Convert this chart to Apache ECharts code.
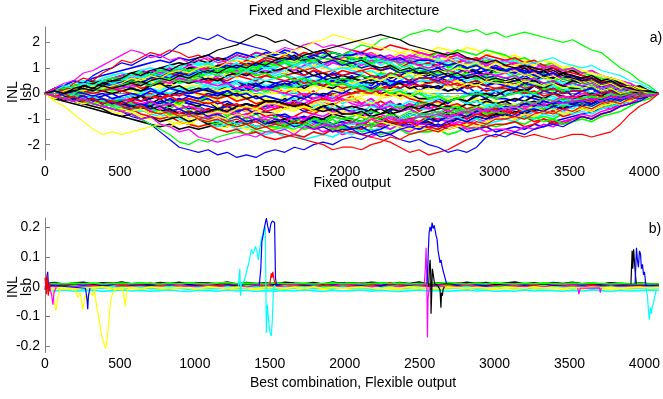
<!DOCTYPE html>
<html><head><meta charset="utf-8">
<script src="https://cdn.jsdelivr.net/npm/echarts@6/dist/echarts.min.js"></script>
<style>html,body{margin:0;padding:0;background:#fff}#c{width:663px;height:399px}</style>
</head><body><div id="c"></div>
<script>
// sample positions (output codes)
const codes = [0,64,128,192,256,320,384,448,512,576,640,704,768,832,896,960,1024,1088,1152,1216,1280,1344,1408,1472,1536,1600,1664,1728,1792,1856,1920,1984,2048,2112,2176,2240,2304,2368,2432,2496,2560,2624,2688,2752,2816,2880,2944,3008,3072,3136,3200,3264,3328,3392,3456,3520,3584,3648,3712,3776,3840,3904,3968,4032,4096];
const xTicks = [0,500,1000,1500,2000,2500,3000,3500,4000];
const topYTicks = [-2,-1,0,1,2];
const botYTicks = [-0.2,-0.1,0,0.1,0.2];

// Fixed output INL curves, in tenths of an lsb (outer, visible curves)
const fA=[0,2,3,5,4,7,9,10,12,11,13,15,14,16,19,20,22,21,23,21,20,19,18,17,15,16,14,13,14,12,13,11,12,10,11,9,10,8,9,10,9,7,8,6,7,8,6,7,6,5,7,5,4,5,3,4,3,2,3,1,2,1,1,0,0];
const fB=[0,1,-1,0,2,1,3,2,3,5,4,3,5,6,4,5,6,8,7,9,8,10,9,12,11,13,12,14,13,15,16,15,17,19,18,21,22,21,23,24,25,24,26,25,24,25,23,24,22,23,24,23,22,21,20,21,19,17,16,13,10,8,5,3,0];
const fC=[0,2,1,4,6,5,8,10,13,12,14,16,15,17,16,14,15,13,14,12,13,11,12,13,12,10,11,9,10,8,9,7,8,9,7,6,8,7,5,6,6,4,5,3,4,5,3,2,3,4,2,3,1,2,0,1,1,-1,0,1,-1,0,1,0,0];
const fD=[0,1,3,2,4,3,5,4,5,7,6,8,7,9,10,8,9,7,8,6,7,9,8,10,8,9,11,10,12,11,9,10,10,12,11,13,12,10,11,12,11,13,12,14,13,12,14,13,12,13,11,12,13,14,12,11,10,11,9,8,7,5,4,2,0];
const fE=[0,2,4,5,8,9,11,13,15,17,16,14,15,13,14,12,13,14,12,13,15,14,16,15,16,18,17,19,20,18,19,18,17,15,16,14,13,12,13,11,10,11,9,8,9,7,8,7,6,7,5,6,4,5,3,4,3,4,2,3,1,2,1,0,0];
const fF=[0,-1,1,2,1,3,2,3,4,6,5,7,6,8,9,8,10,11,10,12,13,12,14,15,16,15,17,18,20,21,23,22,21,20,19,18,17,16,17,15,14,13,14,12,11,12,10,9,8,9,7,8,6,7,5,6,4,5,3,4,2,3,1,1,0];
const fG=[0,1,0,2,3,2,4,5,6,8,7,9,10,9,11,12,14,15,17,18,19,21,23,22,20,21,19,18,16,17,14,13,12,13,11,10,11,9,10,8,8,9,7,8,6,7,5,6,5,6,4,5,3,4,3,2,2,3,1,2,0,1,0,1,0];
const fH=[0,-1,-2,-3,-2,-4,-5,-6,-7,-9,-10,-12,-15,-18,-21,-22,-23,-22,-24,-23,-25,-24,-25,-23,-22,-23,-21,-22,-20,-19,-20,-18,-17,-18,-16,-15,-16,-14,-13,-14,-12,-13,-11,-10,-11,-9,-10,-9,-8,-9,-7,-6,-7,-5,-6,-5,-4,-5,-3,-2,-3,-1,-2,-1,0];
const fI=[0,-1,0,-2,-1,-3,-2,-3,-4,-3,-5,-6,-5,-7,-8,-7,-9,-10,-9,-11,-10,-12,-11,-13,-12,-13,-11,-12,-14,-13,-15,-14,-15,-16,-17,-18,-19,-21,-23,-22,-24,-23,-22,-20,-18,-17,-16,-17,-15,-16,-17,-16,-17,-18,-17,-16,-16,-17,-16,-15,-12,-8,-5,-3,0];
const fJ=[0,1,-1,-2,-1,-3,-2,-4,-3,-5,-4,-6,-5,-7,-6,-8,-7,-9,-8,-10,-9,-11,-10,-12,-10,-11,-13,-12,-14,-13,-15,-14,-14,-16,-15,-17,-16,-18,-19,-18,-20,-21,-23,-22,-23,-21,-17,-16,-17,-15,-16,-14,-13,-12,-13,-11,-9,-10,-8,-7,-5,-4,-3,-1,0];
const fK=[0,-3,-5,-8,-11,-14,-16,-15,-16,-15,-14,-13,-12,-13,-11,-12,-10,-11,-9,-10,-8,-9,-7,-8,-8,-6,-7,-5,-6,-4,-5,-3,-3,-2,-4,-2,-1,0,-1,1,2,1,3,2,4,3,5,4,4,3,5,4,3,4,2,3,2,3,1,2,0,1,1,0,0];
const fL=[0,-1,-2,-1,-3,-4,-3,-5,-7,-8,-10,-12,-14,-16,-19,-20,-18,-19,-17,-16,-15,-16,-14,-15,-14,-13,-14,-12,-13,-11,-12,-10,-10,-11,-9,-10,-8,-9,-7,-8,-8,-7,-8,-6,-7,-5,-6,-5,-4,-5,-3,-4,-2,-3,-2,-3,-2,-1,-2,0,-1,0,-1,0,0];
const fM=[0,1,0,1,2,1,3,2,3,4,3,5,6,5,7,6,8,9,8,10,11,10,12,11,13,14,13,15,16,17,18,19,20,21,22,23,22,21,19,18,17,16,15,16,14,13,12,13,11,10,11,9,8,9,7,6,5,6,4,5,3,2,1,1,0];
const fN=[0,-1,-2,-1,-3,-2,-4,-3,-5,-6,-5,-7,-8,-7,-9,-8,-10,-11,-10,-12,-13,-12,-14,-13,-15,-16,-17,-18,-19,-20,-22,-21,-21,-22,-20,-19,-17,-18,-16,-15,-14,-15,-13,-12,-13,-11,-12,-10,-10,-9,-10,-8,-7,-8,-6,-7,-5,-6,-4,-3,-4,-2,-1,-1,0];
const fO=[0,-1,-2,-3,-2,-4,-5,-6,-7,-8,-10,-9,-12,-13,-15,-14,-17,-18,-19,-18,-17,-16,-17,-15,-15,-14,-16,-13,-14,-12,-13,-12,-11,-12,-10,-11,-9,-10,-11,-9,-9,-8,-10,-8,-7,-8,-6,-7,-6,-5,-6,-4,-5,-3,-4,-3,-3,-2,-3,-1,-2,-1,0,-1,0];
// Fixed output INL curves inside the bundle, tenths of an lsb
const fM1=[0,2,1,3,4,3,5,6,5,7,8,7,9,10,9,11,12,11,13,12,14,13,15,14,15,16,14,16,15,17,16,15,16,14,15,13,14,12,13,11,12,10,11,9,10,8,9,7,8,6,7,5,6,4,5,3,4,2,3,1,2,1,0,1,0];
const fM2=[0,-1,-2,-1,-3,-4,-3,-5,-4,-6,-5,-7,-8,-7,-9,-8,-10,-9,-11,-10,-12,-11,-13,-12,-13,-14,-12,-14,-13,-15,-14,-16,-15,-16,-17,-15,-16,-14,-15,-13,-14,-12,-13,-11,-12,-10,-11,-9,-10,-8,-9,-7,-8,-6,-7,-5,-5,-4,-3,-4,-2,-1,-1,0,0];
const fM3=[0,1,0,2,1,3,2,4,3,5,4,6,5,7,6,8,7,9,8,10,9,11,10,12,11,13,12,14,13,12,14,13,15,14,16,15,14,16,15,17,16,18,17,16,18,17,15,16,14,15,13,12,13,11,10,9,8,7,6,5,4,3,2,1,0];
const fM4=[0,-2,-3,-4,-5,-6,-7,-8,-9,-10,-11,-12,-13,-12,-14,-13,-14,-13,-12,-13,-11,-12,-10,-11,-12,-10,-11,-9,-10,-11,-9,-10,-11,-12,-10,-11,-9,-10,-8,-9,-8,-9,-7,-8,-6,-7,-5,-6,-5,-6,-4,-5,-3,-4,-2,-3,-2,-3,-1,-2,0,-1,0,1,0];
const fM5=[0,2,3,5,4,6,7,8,9,10,11,12,13,12,14,13,14,15,13,14,16,15,14,16,15,17,16,14,15,16,14,15,13,14,12,13,14,12,13,11,12,10,11,12,10,11,9,10,8,9,7,8,6,7,5,6,4,5,3,2,2,1,1,0,0];
const fM6=[0,-1,0,-2,-1,-3,-2,-4,-3,-5,-4,-6,-5,-7,-6,-8,-7,-9,-8,-10,-9,-11,-10,-12,-11,-12,-13,-12,-14,-13,-12,-14,-13,-15,-14,-16,-15,-14,-16,-15,-15,-14,-16,-15,-13,-14,-12,-13,-12,-11,-12,-10,-9,-10,-8,-7,-6,-5,-4,-5,-3,-2,-1,-1,0];
const fM7=[0,1,2,1,3,2,4,5,4,6,5,7,8,7,9,8,10,9,11,12,11,13,12,14,13,15,14,16,15,17,16,15,17,16,18,17,19,18,17,16,15,16,14,15,13,14,12,13,11,12,10,9,10,8,7,6,6,5,4,3,3,2,1,1,0];
const fM8=[0,-1,-2,-3,-2,-4,-5,-4,-6,-7,-6,-8,-9,-8,-10,-11,-10,-12,-13,-12,-14,-13,-15,-16,-15,-17,-16,-18,-17,-16,-17,-15,-16,-14,-15,-13,-14,-12,-13,-11,-12,-10,-11,-9,-10,-8,-9,-7,-8,-6,-7,-5,-6,-4,-5,-3,-4,-2,-3,-1,-2,0,-1,0,0];
const fM9=[0,1,2,3,2,4,3,5,6,5,7,6,8,9,8,10,9,11,10,12,11,10,12,11,13,12,11,13,12,14,13,12,14,13,15,14,13,15,14,16,15,14,16,15,14,13,14,12,13,11,12,10,11,9,8,7,6,5,4,4,3,2,1,1,0];
const fM10=[0,-1,-3,-2,-4,-5,-6,-7,-8,-7,-9,-10,-9,-11,-12,-11,-13,-12,-14,-13,-12,-14,-13,-12,-14,-13,-15,-14,-13,-12,-14,-13,-12,-11,-13,-12,-11,-10,-12,-11,-10,-11,-9,-10,-8,-9,-7,-8,-7,-6,-7,-5,-6,-4,-5,-3,-4,-3,-2,-3,-1,-2,0,-1,0];
const fM11=[0,2,1,3,4,5,4,6,7,8,9,8,10,11,12,11,13,12,14,13,15,14,16,15,14,13,15,12,14,11,13,12,10,12,11,9,10,8,9,7,8,6,7,5,6,7,5,6,4,5,3,4,2,3,1,2,1,2,0,1,-1,0,1,0,0];
const fM12=[0,-1,0,-2,-1,-2,-3,-2,-4,-3,-5,-4,-6,-5,-4,-6,-5,-7,-6,-8,-7,-6,-8,-7,-9,-8,-10,-9,-11,-10,-12,-11,-12,-11,-13,-12,-11,-13,-12,-14,-13,-12,-14,-13,-15,-14,-13,-15,-14,-13,-14,-12,-13,-11,-10,-9,-8,-7,-6,-5,-4,-3,-2,-1,0];
const fM13=[0,1,-1,0,1,2,1,3,2,4,3,5,4,6,5,7,6,8,7,9,8,10,9,11,10,12,11,13,12,11,13,12,14,13,15,14,12,14,13,15,14,16,15,17,16,15,17,16,15,13,14,12,11,12,10,9,8,7,6,5,4,3,2,1,0];
const fM14=[0,-1,-2,-3,-4,-3,-5,-6,-7,-6,-8,-9,-10,-9,-11,-12,-13,-12,-14,-15,-14,-16,-15,-17,-18,-17,-16,-17,-15,-16,-14,-15,-13,-14,-12,-13,-11,-12,-10,-11,-9,-10,-8,-9,-7,-8,-6,-7,-5,-6,-4,-5,-3,-4,-2,-3,-2,-1,-2,0,-1,0,1,0,0];
const fM15=[0,2,3,4,5,4,6,7,8,7,9,10,9,11,10,12,11,12,10,11,9,10,8,9,7,8,6,7,5,6,4,5,3,4,2,3,1,2,0,1,-1,0,-2,-1,-3,-2,-4,-5,-6,-7,-8,-7,-6,-7,-5,-6,-4,-5,-3,-2,-2,-1,-1,0,0];
const fM16=[0,-1,-2,-3,-4,-3,-5,-6,-5,-7,-6,-8,-7,-9,-8,-7,-8,-6,-7,-5,-6,-4,-5,-3,-4,-2,-3,-1,-2,0,-1,1,0,2,1,3,2,4,3,5,4,6,5,7,6,8,7,9,10,9,11,10,9,10,8,9,7,6,5,4,3,2,1,1,0];
const fP=[0,1,2,1,3,4,3,5,6,5,7,6,5,6,4,5,4,3,2,3,1,0,1,-1,-2,-3,-2,-4,-5,-4,-6,-5,-6,-7,-5,-6,-4,-5,-3,-4,-3,-2,-1,-2,0,1,0,1,2,3,2,4,3,5,4,3,3,4,2,3,1,2,0,1,0];
const fQ=[0,-1,-2,-1,-3,-2,-4,-3,-4,-5,-6,-5,-7,-6,-8,-7,-8,-9,-7,-8,-6,-7,-5,-6,-5,-4,-3,-4,-2,-1,-2,0,0,1,2,1,3,4,3,5,5,6,4,6,7,6,8,7,8,9,7,8,6,7,6,5,5,6,4,3,4,2,1,1,0];
const fR=[0,-1,-3,-2,-4,-5,-6,-8,-9,-8,-10,-9,-11,-10,-9,-11,-10,-12,-11,-10,-12,-11,-13,-12,-11,-10,-12,-11,-9,-10,-8,-9,-10,-11,-9,-10,-12,-11,-10,-12,-11,-13,-12,-10,-11,-9,-10,-8,-9,-7,-8,-6,-7,-5,-6,-4,-5,-4,-3,-4,-2,-3,-1,-1,0];
const fS=[0,1,0,2,1,3,2,4,3,2,1,2,0,-1,0,-1,-2,-1,0,1,2,1,3,2,4,5,4,6,7,6,8,7,8,7,6,7,5,4,5,3,3,2,1,2,0,-1,0,-2,-2,-3,-1,-2,-3,-4,-3,-4,-3,-2,-3,-1,-2,0,-1,0,0];
const fT=[0,-1,-2,-3,-2,-4,-5,-4,-6,-5,-6,-4,-5,-3,-4,-2,-3,-1,-2,0,1,0,2,1,2,3,2,4,3,5,4,6,5,7,6,8,7,9,8,10,10,11,9,10,12,11,13,12,12,13,11,12,10,11,9,10,8,9,7,6,5,3,2,1,0];
const fU=[0,1,2,1,3,2,4,3,4,5,6,5,7,8,7,8,9,10,8,9,7,8,6,7,6,5,6,4,5,3,4,2,3,1,2,0,-1,0,-2,-3,-4,-3,-5,-4,-6,-5,-7,-6,-7,-8,-6,-7,-8,-7,-9,-8,-6,-7,-5,-6,-4,-3,-2,-1,0];
const fV=[0,-1,-2,-3,-2,-4,-3,-5,-5,-6,-7,-6,-8,-7,-9,-8,-9,-10,-11,-10,-12,-11,-13,-12,-13,-14,-12,-13,-11,-12,-13,-12,-12,-11,-10,-11,-9,-10,-8,-9,-8,-9,-10,-9,-11,-10,-12,-11,-10,-11,-9,-10,-8,-9,-7,-8,-7,-8,-6,-5,-4,-3,-2,-1,0];
const fW=[0,1,2,3,4,3,5,6,7,6,8,9,8,10,9,11,10,9,10,8,9,7,8,9,8,10,9,11,12,11,13,14,15,16,15,14,15,13,14,13,14,12,13,14,12,13,11,12,13,12,11,12,10,11,9,10,8,9,7,6,5,4,2,1,0];
const fX=[0,1,0,2,1,2,3,2,2,1,0,-1,-2,-1,-3,-2,-4,-3,-5,-6,-5,-7,-6,-8,-7,-6,-5,-6,-4,-3,-4,-2,-2,-1,0,-1,1,0,2,1,0,-1,-2,-1,-3,-2,-4,-3,-5,-4,-6,-5,-7,-6,-8,-7,-6,-7,-5,-4,-3,-3,-2,-1,0];
const fY=[0,-1,0,1,0,2,1,0,1,2,1,3,4,3,5,4,5,6,5,7,8,7,9,8,9,10,8,9,7,8,6,7,6,5,4,5,3,4,2,3,2,3,1,2,3,4,3,5,4,5,6,5,7,6,8,7,6,7,5,6,4,3,2,1,0];
const fZ=[0,-1,-2,-3,-4,-3,-5,-6,-6,-5,-4,-5,-3,-4,-2,-3,-4,-5,-6,-5,-7,-6,-8,-7,-8,-9,-10,-9,-11,-12,-13,-12,-14,-13,-15,-14,-12,-13,-11,-12,-10,-11,-9,-8,-9,-7,-6,-7,-5,-6,-4,-5,-3,-4,-2,-3,-3,-4,-2,-3,-1,-2,-1,0,0];
const fAA=[0,1,0,-1,0,1,2,1,2,3,4,3,5,6,5,6,7,8,9,8,10,11,10,12,12,13,14,13,15,14,16,15,14,13,12,13,11,10,11,9,9,8,9,7,8,6,7,5,6,7,5,6,4,5,6,5,4,5,3,4,2,3,1,0,0];
const fAB=[0,-1,0,-2,-1,-3,-2,-4,-3,-2,-3,-1,-2,0,-1,1,0,-1,-2,-1,-3,-2,-4,-3,-4,-5,-4,-6,-7,-6,-8,-7,-8,-9,-10,-9,-11,-12,-11,-13,-13,-14,-12,-13,-11,-12,-13,-12,-12,-11,-13,-12,-10,-11,-12,-10,-9,-10,-8,-7,-5,-4,-2,-1,0];
const fAC=[0,1,2,1,2,3,2,4,3,4,5,4,6,7,6,7,8,9,10,9,11,10,12,11,12,13,11,12,10,11,9,10,9,8,9,7,8,6,7,5,5,4,3,4,2,3,1,2,0,1,-1,0,-2,-1,-3,-2,-2,-3,-1,-2,0,-1,0,1,0];
const fAD=[0,-1,0,-1,-2,-1,-3,-2,-2,-3,-4,-3,-5,-4,-6,-5,-6,-7,-8,-7,-9,-8,-10,-9,-10,-11,-9,-10,-8,-9,-7,-8,-7,-8,-9,-8,-10,-11,-10,-12,-12,-13,-11,-12,-14,-13,-15,-14,-14,-15,-13,-14,-12,-13,-11,-10,-8,-9,-7,-6,-5,-4,-2,-1,0];
const fAE=[0,1,2,3,2,4,3,5,5,4,6,5,3,4,2,3,3,2,1,2,0,1,-1,0,0,1,2,1,3,2,4,3,4,5,6,5,7,6,8,7,8,9,8,10,9,11,10,12,10,11,12,11,13,12,10,11,9,8,7,6,5,3,2,1,0];
const fAF=[0,-1,-2,-1,-3,-2,-4,-3,-4,-5,-6,-5,-7,-6,-8,-7,-8,-7,-6,-7,-5,-4,-5,-3,-3,-4,-5,-4,-6,-5,-4,-6,-5,-6,-7,-6,-8,-7,-6,-8,-7,-6,-5,-6,-4,-5,-3,-4,-3,-2,-3,-1,-2,0,-1,-2,-1,0,-1,1,0,-1,0,1,0];
const fAG=[0,1,2,1,3,2,4,3,4,5,4,6,7,6,8,7,9,8,10,11,10,12,11,13,12,13,14,13,15,14,16,15,15,16,14,15,13,14,12,13,13,12,11,12,10,11,9,10,9,8,9,7,6,7,5,6,4,5,3,4,2,3,1,1,0];
const fAH=[0,-1,-2,-1,-2,-3,-2,-3,-3,-4,-5,-6,-7,-8,-9,-8,-10,-11,-12,-11,-13,-12,-14,-13,-13,-12,-11,-12,-10,-11,-9,-10,-9,-8,-7,-8,-6,-5,-6,-4,-4,-5,-6,-5,-7,-6,-8,-7,-8,-9,-10,-9,-11,-10,-12,-11,-10,-11,-9,-8,-7,-5,-3,-2,0];
const fAI=[0,1,0,2,1,0,1,2,1,0,-1,0,-2,-1,-3,-2,-3,-4,-3,-5,-4,-6,-5,-7,-6,-5,-4,-5,-3,-2,-3,-1,0,1,0,2,3,2,4,3,4,5,3,4,2,3,1,2,2,1,0,1,-1,0,-2,-1,-2,-3,-1,-2,0,-1,0,1,0];
const fAJ=[0,-1,0,-1,-2,-1,-3,-2,-2,-1,0,-1,1,0,2,1,2,3,4,3,5,4,6,5,6,7,5,6,4,5,3,4,3,2,1,2,0,1,-1,0,-2,-1,-3,-2,-4,-3,-5,-4,-6,-5,-7,-6,-5,-6,-4,-5,-4,-5,-3,-2,-3,-1,-2,0,0];
const fAK=[0,1,0,1,2,1,3,2,2,3,4,3,5,4,6,5,5,4,3,4,2,3,1,2,1,0,-1,0,-2,-1,-3,-2,-4,-5,-4,-6,-5,-7,-6,-8,-8,-7,-9,-8,-7,-6,-7,-5,-4,-5,-3,-4,-2,-3,-1,-2,0,-1,1,0,-1,0,1,0,0];
const fAL=[0,-1,-2,-3,-4,-3,-5,-6,-6,-7,-6,-8,-7,-9,-8,-10,-9,-8,-7,-8,-6,-5,-6,-4,-4,-5,-6,-5,-7,-6,-8,-7,-8,-9,-10,-11,-12,-13,-14,-13,-14,-15,-14,-13,-12,-13,-11,-10,-9,-10,-8,-9,-7,-8,-6,-7,-5,-6,-4,-3,-4,-2,-1,-1,0];
const fAM=[0,1,2,1,3,4,3,5,5,4,5,3,4,2,3,1,2,1,0,-1,0,-2,-1,-3,-3,-4,-5,-4,-6,-7,-6,-8,-8,-7,-9,-8,-6,-7,-5,-6,-4,-5,-3,-2,-3,-1,0,-1,1,2,1,3,2,4,3,5,4,5,3,4,2,3,1,1,0];
const fAN=[0,-1,0,1,0,-1,0,-2,-1,0,-1,1,0,2,1,0,1,2,0,1,-1,0,-2,-1,-2,-3,-1,-2,0,-1,1,0,2,3,2,4,3,5,4,6,6,5,7,6,4,5,3,4,3,2,4,3,1,2,0,1,1,2,0,1,-1,0,-1,0,0];
const fAO=[0,1,2,3,4,3,5,6,6,7,8,7,9,8,10,9,10,11,9,10,8,9,7,8,6,7,5,6,4,5,3,4,2,3,1,2,0,1,-1,0,-2,-1,-3,-2,-1,0,-1,-2,-1,0,1,0,2,1,3,2,2,3,1,2,0,1,0,1,0];
const fN1=[0,2,0,3,1,4,2,5,3,6,4,7,5,8,6,9,7,10,8,9,7,10,8,11,9,8,10,7,9,6,8,5,7,4,6,3,5,2,4,1,3,2,4,1,3,0,2,1,3,0,2,-1,1,0,2,-1,1,0,2,0,1,-1,1,0,0];
const fN2=[0,-2,0,-3,-1,-4,-2,-5,-3,-6,-4,-5,-3,-6,-4,-7,-5,-8,-6,-9,-7,-10,-8,-11,-9,-12,-10,-11,-9,-12,-10,-13,-11,-9,-12,-10,-8,-11,-9,-12,-10,-8,-11,-9,-7,-10,-8,-6,-8,-5,-7,-4,-6,-3,-5,-2,-4,-1,-3,0,-2,1,-1,0,0];
const fN3=[0,2,1,3,2,4,3,5,4,6,5,7,6,5,7,6,5,4,6,3,5,2,4,1,3,0,2,-1,1,-2,0,-3,-1,-4,-2,-5,-3,-6,-4,-7,-5,-8,-6,-9,-7,-8,-6,-9,-7,-5,-8,-6,-4,-7,-5,-3,-5,-2,-4,-1,-3,0,-2,-1,0];
const fN4=[0,1,3,2,4,3,5,4,6,5,7,6,8,7,9,8,10,9,11,10,12,9,11,10,10,12,9,11,13,10,12,11,13,12,14,11,13,12,14,13,12,14,11,13,10,12,9,11,10,8,9,7,8,6,7,5,6,4,5,3,4,2,3,1,0];
const fN5=[0,-1,-3,-2,-4,-3,-5,-4,-6,-5,-7,-6,-8,-7,-9,-8,-10,-9,-11,-10,-12,-9,-11,-10,-12,-11,-13,-10,-12,-11,-13,-12,-14,-11,-13,-12,-14,-12,-13,-11,-12,-10,-11,-9,-10,-8,-9,-7,-8,-6,-7,-5,-6,-4,-5,-3,-4,-2,-3,-1,-2,0,-1,0,0];
const fN6=[0,2,0,1,3,1,2,4,2,3,1,4,2,3,0,2,-1,1,-2,0,-3,-1,-4,-2,-3,-1,-4,-2,0,-3,-1,1,-1,2,0,3,1,4,2,5,3,6,4,5,3,6,4,5,3,5,2,4,1,3,0,2,1,-1,1,0,2,-1,1,0,0];
const fN7=[0,-2,0,-1,-3,-1,-2,-4,-2,-3,-1,-4,-2,-5,-3,-4,-5,-3,-6,-4,-5,-7,-5,-6,-4,-6,-3,-5,-7,-5,-6,-8,-7,-9,-6,-8,-7,-10,-8,-9,-9,-11,-8,-10,-9,-7,-9,-8,-6,-8,-5,-7,-4,-6,-3,-5,-3,-4,-2,-3,-1,-2,0,-1,0];
const fN8=[0,-1,-2,-1,-3,-2,-4,-3,-5,-4,-5,-3,-4,-2,-3,-1,-2,0,-1,1,0,2,1,3,2,4,3,5,4,6,5,3,4,5,3,6,4,7,5,8,6,7,9,8,10,8,9,11,9,10,8,9,7,8,6,7,5,6,4,5,3,2,1,1,0];
const fN9=[0,2,1,3,2,4,3,5,4,6,5,7,6,8,7,9,8,10,9,11,10,12,11,13,12,14,13,15,12,14,13,15,14,13,15,12,14,11,13,12,11,13,10,12,9,11,10,8,9,7,8,6,7,5,6,4,5,3,4,2,3,1,2,1,0];
const fN10=[0,-1,0,-2,-1,-3,-2,-4,-3,-5,-4,-6,-5,-7,-6,-5,-7,-6,-8,-7,-9,-8,-7,-9,-8,-10,-9,-7,-8,-6,-7,-5,-6,-4,-5,-3,-5,-4,-6,-5,-4,-6,-5,-7,-6,-8,-7,-9,-8,-10,-9,-11,-10,-12,-11,-10,-9,-10,-8,-7,-5,-4,-2,-1,0];
const fN11=[0,1,0,2,1,3,2,4,3,5,4,6,5,4,6,5,4,3,5,2,4,1,3,0,2,-1,1,-2,0,-3,-1,-4,-2,-5,-3,-6,-4,-7,-5,-6,-6,-8,-5,-7,-6,-8,-5,-7,-6,-4,-5,-3,-4,-2,-3,-1,-2,0,-1,1,0,-1,0,1,0];
const fN12=[0,1,0,1,2,1,3,2,3,2,4,3,5,4,6,5,6,5,7,6,8,7,9,8,9,8,10,9,11,10,12,11,12,11,13,12,14,13,15,14,13,15,14,12,13,11,12,10,11,9,10,8,9,7,8,6,6,5,4,3,3,2,1,1,0];
const fN13=[0,-2,-1,-3,-2,-4,-3,-5,-6,-5,-7,-4,-6,-3,-5,-2,-4,-1,-3,0,-2,1,-1,2,0,3,1,2,0,3,1,2,2,0,1,-1,0,-2,-1,-3,-2,-4,-3,-5,-4,-6,-5,-4,-5,-6,-4,-5,-3,-4,-2,-3,-2,-3,-1,-2,0,-1,0,1,0];
const fN14=[0,2,1,3,2,4,5,4,6,5,7,8,7,9,8,10,10,9,11,10,8,9,7,8,6,7,5,6,4,5,6,5,6,7,5,8,6,7,9,8,7,9,8,10,8,9,7,10,9,8,10,7,9,6,8,5,6,4,5,3,4,2,3,1,0];
const fN15=[0,-1,1,0,-1,-2,-1,0,-2,-1,-3,-2,-1,-3,-2,-4,-3,-2,-4,-3,-5,-4,-6,-5,-4,-6,-5,-7,-6,-5,-7,-6,-7,-6,-8,-5,-7,-4,-6,-3,-5,-2,-4,-1,-3,0,-2,1,-1,2,0,3,1,2,0,2,1,2,0,1,-1,0,1,0,0];
const fN16=[0,1,2,1,3,2,4,3,4,5,6,5,7,6,8,7,8,9,8,10,9,11,10,12,11,12,10,13,12,11,13,12,11,10,12,9,11,8,10,9,8,7,9,6,8,5,7,6,4,5,3,4,2,3,1,2,1,2,0,1,0,1,-1,0,0];
const fN17=[0,-1,-2,-1,-3,-2,-3,-4,-3,-5,-4,-6,-5,-7,-6,-8,-7,-9,-8,-10,-9,-11,-10,-12,-11,-13,-12,-11,-13,-12,-14,-12,-11,-13,-10,-12,-9,-11,-10,-9,-10,-8,-9,-7,-10,-8,-9,-7,-8,-6,-7,-5,-6,-4,-5,-3,-4,-2,-3,-1,-2,0,-1,0,0];
const fN18=[0,1,-1,0,2,0,1,3,1,2,0,2,1,3,1,2,3,1,2,4,2,3,5,3,4,2,3,5,3,4,6,4,5,3,4,6,4,5,7,5,6,4,5,7,5,6,4,5,3,4,2,3,1,3,2,1,2,0,1,-1,1,0,1,0,0];
const fN19=[0,-1,-2,-3,-2,-4,-3,-5,-4,-6,-5,-7,-6,-8,-7,-9,-8,-7,-9,-6,-8,-5,-7,-4,-6,-3,-5,-2,-4,-3,-5,-2,-3,-4,-2,-5,-3,-6,-4,-5,-6,-5,-7,-6,-8,-6,-7,-5,-7,-6,-5,-6,-4,-5,-3,-4,-2,-3,-1,-2,0,-1,0,-1,0];
const fN20=[0,1,2,1,3,2,4,3,4,3,5,4,6,5,7,6,6,7,5,8,6,9,7,8,9,8,10,9,11,10,9,11,10,9,8,9,7,8,6,7,5,6,4,5,3,4,6,5,4,6,5,7,6,5,7,6,5,4,3,4,2,3,1,1,0];
const fN21=[0,-1,-2,-1,-3,-2,-4,-3,-3,-2,-1,-2,0,-1,1,0,1,2,1,3,2,4,3,5,4,3,5,2,4,3,2,4,3,1,2,0,1,-1,0,-2,-2,-1,-3,-2,-4,-3,-2,-4,-3,-5,-4,-3,-5,-4,-6,-4,-3,-4,-2,-3,-1,-2,0,-1,0];
const fN22=[0,1,2,3,2,4,3,5,4,6,5,7,6,8,7,6,7,5,6,4,5,3,4,2,3,4,2,3,4,3,5,4,6,5,7,6,8,7,9,8,9,10,8,11,10,9,11,10,9,10,8,9,7,8,6,7,5,6,4,3,3,2,1,1,0];
const fN23=[0,-1,-2,-1,-3,-2,-4,-3,-4,-5,-4,-6,-5,-7,-6,-8,-7,-9,-8,-10,-9,-11,-10,-12,-11,-13,-12,-14,-13,-12,-14,-13,-14,-12,-13,-11,-12,-10,-11,-9,-10,-8,-9,-7,-8,-6,-7,-5,-6,-5,-7,-5,-6,-4,-5,-3,-4,-2,-3,-1,-2,0,-1,0,0];
const fN24=[0,1,0,2,1,3,2,3,3,4,2,3,5,4,6,5,4,5,6,5,7,6,5,7,6,7,8,7,9,8,7,9,8,9,10,9,11,10,12,11,12,11,13,12,14,13,15,14,13,14,12,13,11,10,9,8,7,6,5,4,3,2,1,1,0];
const bundleCurves = [fM1,fM2,fM3,fM4,fM5,fM6,fM7,fM8,fM9,fM10,fM11,fM12,fM13,fM14,fM15,fM16,fN1,fN2,fN3,fN4,fN5,fN6,fN7,fN8,fN9,fN10,fN11,fN12,fN13,fN14,fN15,fN16,fN17,fN18,fN19,fN20,fN21,fN22,fN23,fN24,fP,fQ,fR,fS,fT,fU,fV,fW,fX,fY,fZ,fAA,fAB,fAC,fAD,fAE,fAF,fAG,fAH,fAI,fAJ,fAK,fAL,fAM,fAN,fAO];
const bundleColors = ['c','m','y','k','b','g','r','c','m','y','k','b','g','r','c','k','b','g','r','c','m','y','k','b','g','r','c','m','y','k','b','g','r','c','m','y','k','b','g','r','c','m','k','b','g','r','c','m','y','k','b','g','r','c','m','y','k','b','g','r','c','m','y','k','b','g'];
const edgeCurves = [fA,fB,fC,fD,fE,fF,fG,fH,fI,fJ,fK,fL,fM,fN,fO];
const edgeColors = ['b','g','r','c','m','y','k','b','r','b','y','g','k','r','m'];

// Flexible output: band curves, thousandths of an lsb
const bBand1=[8,11,9,12,10,13,9,11,12,10,13,11,9,12,10,13,11,9,12,14,10,12,11,9,13,11,10,12,9,11,13,10,12,9,11,13,10,12,9,11,10,12,14,11,9,12,10,13,11,9,12,10,13,11,9,12,10,13,11,9,12,10,11,9,10];
const bBand2=[-4,-7,-5,-9,-6,-8,-4,-7,-9,-5,-8,-6,-10,-7,-5,-8,-6,-9,-4,-7,-8,-5,-9,-6,-7,-10,-5,-8,-6,-9,-7,-4,-8,-6,-9,-5,-7,-10,-6,-8,-5,-9,-7,-4,-8,-6,-10,-7,-5,-8,-6,-9,-7,-4,-8,-6,-9,-5,-7,-10,-6,-8,-5,-7,-6];
const bBand3=[-12,-14,-11,-15,-13,-12,-16,-13,-11,-14,-12,-15,-13,-11,-14,-16,-12,-13,-15,-11,-14,-12,-16,-13,-15,-12,-14,-11,-13,-16,-12,-14,-13,-11,-15,-12,-14,-16,-13,-11,-14,-12,-15,-13,-11,-14,-12,-16,-13,-15,-11,-14,-12,-13,-15,-12,-14,-11,-13,-16,-12,-14,-13,-11,-12];
const bBand4=[10,14,8,12,15,9,13,11,16,10,12,8,14,11,15,9,13,12,10,16,9,14,11,13,8,15,12,10,14,9,16,11,13,10,15,12,8,14,11,16,9,13,12,10,15,11,14,8,12,16,10,13,9,14,11,15,10,12,8,13,11,9,12,10,9];
const bBand5=[5,8,4,10,6,9,3,7,11,5,8,4,9,6,12,7,4,10,6,8,3,9,7,11,5,8,10,4,7,9,6,12,8,5,9,3,10,7,6,11,4,8,9,5,12,7,3,10,6,9,5,8,11,4,7,10,5,9,6,8,4,7,5,6,5];
const bBand6=[3,6,1,5,7,2,4,8,3,6,0,5,2,7,4,6,1,5,8,3,6,2,4,7,5,0,6,3,8,2,5,4,7,1,6,4,3,8,2,5,6,0,4,7,3,5,8,2,4,6,1,5,7,3,6,2,5,4,7,1,6,3,4,2,3];
const bBand7=[-2,-5,-1,-4,-6,-3,0,-4,-5,-2,-6,-1,-3,-5,-2,-4,-6,0,-3,-5,-1,-4,-6,-2,-3,-5,-1,-4,0,-6,-2,-5,-3,-1,-4,-6,-2,-5,0,-3,-4,-6,-1,-3,-5,-2,-4,-6,-1,-3,-5,0,-4,-2,-6,-3,-5,-1,-4,-2,-6,-3,-1,-4,-2];
const bBand8=[8,11,6,10,13,7,9,12,5,10,8,12,6,11,9,13,7,10,5,12,8,11,9,6,13,8,10,7,12,5,11,9,8,12,6,10,13,7,9,11,5,10,8,12,7,13,9,6,11,8,10,5,12,9,7,11,10,6,9,12,8,10,7,9,8];
const bBand9=[3,0,5,-1,6,2,4,-2,7,1,3,5,0,8,2,4,-1,6,3,1,5,-2,4,7,2,0,6,3,-1,5,8,1,4,2,-2,6,3,0,5,7,1,4,-1,3,6,2,0,5,8,3,1,4,-2,6,2,5,0,3,7,1,4,2,3,1,2];
const bBand10=[-3,-6,0,-4,-8,-2,-5,1,-7,-3,-1,-6,-4,2,-5,-8,-2,-4,-7,0,-3,-6,-1,-5,-8,-2,-4,1,-6,-3,-7,-1,-5,-2,-8,-4,0,-6,-3,-1,-7,-4,-2,-5,1,-8,-3,-6,-1,-4,-7,-2,-5,0,-3,-6,-2,-8,-4,-1,-5,-3,-4,-2,-3];
const bandCurves = [bBand6,bBand2,bBand9,bBand10,bBand5,bBand8,bBand7,bBand3,bBand4,bBand1];
const bandColors = ['g','y','m','c','b','r','y','c','k','g'];

// Flexible output: localized excursions (codes, thousandths of an lsb)
const yelSpikeX=[40,55,65,73,85,100,200,219,235,252,268,285,300,318,330,344,354,364,374,384,394,404,410,417,427,437,450,470,520,536,543,560,600];
const yelSpikeV=[-5,-30,-60,-80,-40,-8,-6,-36,-20,-75,-30,-50,-20,-30,-10,-65,-90,-120,-150,-175,-190,-205,-195,-165,-110,-50,-25,-8,-10,-65,-20,-6,-5];
const magSpike1X=[30,45,53,60,75]; const magSpike1V=[0,-30,-60,-20,-2];
const bluSpike1X=[0,8,18,25,35,270,280,285,290,300]; const bluSpike1V=[-10,20,50,-15,5,-5,-40,-75,-30,-5];
const redSpike1X=[0,5,10,15,22,30,40]; const redSpike1V=[30,35,-25,40,-30,10,5];
const cyaSpike2X=[1290,1300,1305,1310,1330,1360,1378,1390,1404,1414,1424,1434,1444,1460,1470,1477,1483,1490,1500,1510,1517,1523,1530,1540];
const cyaSpike2V=[0,60,-30,10,20,80,125,110,135,120,90,130,160,190,200,-155,-60,-100,-150,-165,-110,-20,5,0];
const bluSpike2X=[1430,1440,1447,1455,1465,1477,1487,1497,1507,1517,1525,1532,1538,1545];
const bluSpike2V=[5,60,150,170,200,230,200,180,210,220,225,215,30,5];
const redSpike2X=[1500,1510,1515,1520,1530,1540]; const redSpike2V=[10,45,30,50,20,8];
const magSpike3X=[2530,2538,2543,2548,2552,2556,2565]; const magSpike3V=[5,60,130,20,-170,-40,0];
const bluSpike3X=[2550,2558,2563,2570,2577,2583,2590,2597,2603,2610,2616,2623,2630,2636,2643,2649,2656,2663,2669,2680];
const bluSpike3V=[10,120,180,200,185,215,195,205,190,170,160,120,100,80,90,70,55,60,50,10];
const blkSpike3X=[2560,2566,2570,2574,2576,2580,2585,2600,2620,2636,2642,2646,2652,2656,2665];
const blkSpike3V=[0,70,90,40,-90,-30,60,10,5,-10,-70,-20,-30,-10,0];
const blkSpike4X=[3910,3918,3922,3928,3934,3940,3946]; const blkSpike4V=[10,120,60,125,80,40,10];
const bluSpike4X=[3938,3947,3953,3960,3967,3974,3980,3987,3994,4000,4010]; const bluSpike4V=[10,130,90,65,120,110,60,75,40,50,5];
const cyaSpike4X=[4010,4020,4027,4033,4040,4047,4053,4060,4066,4080]; const cyaSpike4V=[-5,-30,-80,-110,-70,-90,-65,-55,-50,-10];
const magSpike4X=[3555,3563,3571,3700,3706,3712]; const magSpike4V=[-5,-25,-5,-4,-20,-4];
const spikeX=[yelSpikeX,magSpike1X,bluSpike1X,redSpike1X,cyaSpike2X,bluSpike2X,redSpike2X,magSpike3X,bluSpike3X,blkSpike3X,blkSpike4X,bluSpike4X,cyaSpike4X,magSpike4X];
const spikeV=[yelSpikeV,magSpike1V,bluSpike1V,redSpike1V,cyaSpike2V,bluSpike2V,redSpike2V,magSpike3V,bluSpike3V,blkSpike3V,blkSpike4V,bluSpike4V,cyaSpike4V,magSpike4V];
const spikeColors=['y','m','b','r','c','b','r','m','b','k','k','b','c','m'];

const palette = {b:'#0000ff',g:'#00ff00',r:'#ff0000',c:'#00ffff',m:'#ff00ff',y:'#ffff00',k:'#000000'};
const FONT = '"Liberation Sans", Arial, sans-serif';
const axisGray = '#808080';

const chart = echarts.init(document.getElementById('c'), null, {renderer:'canvas'});
const plain = v => String(v);
function xAx(gi){
  return {type:'value', gridIndex:gi, min:0, max:4096,
    axisLine:{show:true, lineStyle:{color:axisGray,width:1}},
    axisTick:{show:true, inside:true, length:5, customValues:xTicks, lineStyle:{color:axisGray}},
    axisLabel:{customValues:xTicks, formatter:plain, color:'#000', fontFamily:FONT, fontSize:14, margin:5},
    splitLine:{show:false}};
}
function yAx(gi,min,max,ticks){
  return {type:'value', gridIndex:gi, min:min, max:max,
    axisLine:{show:true, lineStyle:{color:axisGray,width:1}},
    axisTick:{show:true, inside:true, length:5, customValues:ticks, lineStyle:{color:axisGray}},
    axisLabel:{customValues:ticks, formatter:plain, color:'#000', fontFamily:FONT, fontSize:14, margin:5},
    splitLine:{show:false}};
}
const series = [];
function addCurves(list, colors, width, div, xi){
  list.forEach((vals,k)=>{
    series.push({type:'line', xAxisIndex:xi, yAxisIndex:xi, symbol:'none', silent:true,
      lineStyle:{width:width, color:palette[colors[k]]},
      data: vals.map((v,i)=>[codes[i], v/div])});
  });
}
addCurves(bundleCurves, bundleColors, 1.6, 10, 0);
addCurves(edgeCurves, edgeColors, 1.2, 10, 0);
addCurves(bandCurves, bandColors, 1.6, 1000, 1);
spikeX.forEach((xs,k)=>{
  series.push({type:'line', xAxisIndex:1, yAxisIndex:1, symbol:'none', silent:true,
    lineStyle:{width:1.2, color:palette[spikeColors[k]]},
    data: xs.map((x,i)=>[x, spikeV[k][i]/1000])});
});
function txt(s,x,y,rot){
  return {type:'text', x:x, y:y, rotation:rot||0, silent:true,
    style:{text:s, fill:'#000', font:'14px '+FONT, align:'center', verticalAlign:'middle', lineHeight:14}};
}
chart.setOption({
  animation:false,
  backgroundColor:'#fff',
  grid:[{left:45, top:27, width:618, height:133},{left:45, top:218, width:618, height:134.5}],
  xAxis:[xAx(0), xAx(1)],
  yAxis:[yAx(0,-2.6,2.6,topYTicks), yAx(1,-0.22,0.23,botYTicks)],
  series: series,
  graphic:[
    txt('Fixed and Flexible architecture',344,11),
    txt('Fixed output',352,183),
    txt('Best combination, Flexible output',353,383),
    txt('a)',656,38),
    txt('b)',655,229),
    txt('INL\nlsb',20,92,Math.PI/2),
    txt('INL\nlsb',20,287,Math.PI/2)
  ]
});
</script></body></html>
